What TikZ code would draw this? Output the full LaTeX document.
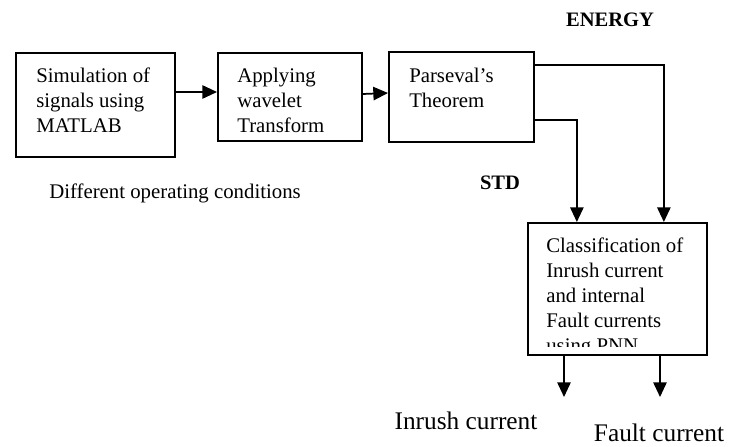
\documentclass[tikz,border=0pt]{standalone}
\usepackage{fontspec}
\setmainfont{Liberation Serif}
\usetikzlibrary{arrows.meta,calc}

\tikzset{
  blk/.style={draw, line width=1.3pt, inner sep=0pt, anchor=north west},
  txt/.style={font=\fontsize{15.6}{18.75}\selectfont, align=left, anchor=north west, inner sep=0pt},
  lbl/.style={font=\fontsize{15.4}{18}\selectfont\bfseries, inner sep=0pt},
  outlbl/.style={font=\fontsize{19}{22}\selectfont, inner sep=0pt},
  arr/.style={line width=1.3pt, -{Triangle[length=11pt,width=10pt]}}
}

\begin{document}
\begin{tikzpicture}[x=0.75pt,y=-0.75pt]
\useasboundingbox (0,0) rectangle (735,446);

%Boxes
\node[blk, minimum width=159*0.75pt, minimum height=104*0.75pt] (sim) at (15,52) {};
\node[blk, minimum width=144*0.75pt, minimum height=88*0.75pt] (wav) at (217,52) {};
\node[blk, minimum width=145*0.75pt, minimum height=90*0.75pt] (par) at (388,51) {};
\node[blk, minimum width=179*0.75pt, minimum height=132*0.75pt] (cls) at (527,222) {};

%Box texts
\node[txt] (simtxt) at (36,68) {Simulation of\\signals using\\MATLAB};
\node[txt] (wavtxt) at (237,68) {Applying\\wavelet\\Transform};
\node[txt] (partxt) at (409,68) {Parseval's\\Theorem};
\begin{scope}
  \clip (cls.north west) rectangle ($(cls.south east)+(0,-9)$);
  \node[txt] (clstxt) at (546,238) {Classification of\\Inrush current\\and internal\\Fault currents\\using PNN};
\end{scope}

%Labels
\node[lbl] (energy) at (610,20) {ENERGY};
\node[lbl] (std) at (500,183) {STD};
\node[font=\fontsize{15.6}{18.75}\selectfont, inner sep=0pt] (cond) at (175,193) {Different operating conditions};
\node[outlbl] (inrush) at (466,421) {Inrush current};
\node[outlbl] (fault) at (659,433) {Fault current};

%Connectors
\coordinate (inrend) at (564,397);
\coordinate (faultend) at (660,397);
\draw[arr] ($(sim.north east)+(0,40)$) -- ($(wav.north west)+(0,40)$);
\draw[arr] ($(wav.north east)+(0,42)$) -- ($(par.north west)+(0,42)$);
\draw[arr] ($(par.north east)+(0,14)$) -| ($(cls.north)+(46.5,0)$);
\draw[arr] ($(par.south east)+(0,-23)$) -| ($(cls.north)+(-40.5,0)$);
\draw[arr] (cls.south -| inrend) -- (inrend);
\draw[arr] (cls.south -| faultend) -- (faultend);

\end{tikzpicture}
\end{document}
